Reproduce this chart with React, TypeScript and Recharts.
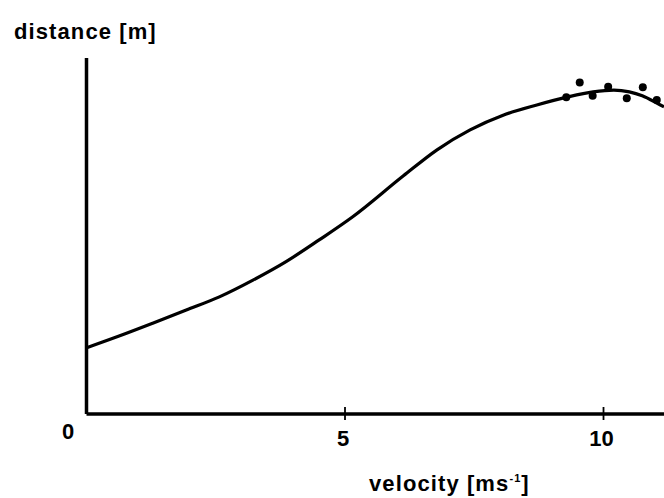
import React from 'react';
import { ComposedChart, Line, Scatter, XAxis, YAxis, Label } from 'recharts';

// smooth fitted curve
const curveVelocity = [0, 0.63, 1.28, 1.93, 2.57, 3.22, 3.86, 4.5, 5.15, 6.13, 6.78, 7.42, 8.07, 8.71, 9.29, 9.8, 10.2, 10.5, 10.75, 11.1, 11.17];
const curveDistance = [18.6, 21.9, 25.5, 29.2, 32.9, 37.6, 42.8, 48.9, 55.4, 66.9, 74.2, 79.8, 84.0, 86.8, 89.0, 90.5, 91.0, 90.5, 89.4, 86.8, 86.3];

// measured points
const pointVelocity = [9.28, 9.54, 9.79, 10.09, 10.45, 10.76, 11.03];
const pointDistance = [89.0, 93.1, 89.4, 91.9, 88.7, 91.8, 88.2];

const xTicks = [0, 5, 10];
const xMax = 11.17;

const curve = curveVelocity.map((v, i) => ({ v, d: curveDistance[i] }));
const points = pointVelocity.map((v, i) => ({ v, d: pointDistance[i] }));

const font = '"Liberation Sans", Arial, Helvetica, sans-serif';

const VelocityTick = (props: any) => {
  const { x, y, payload } = props;
  if (payload.value === 0) {
    return (
      <text x={x - 18.5} y={y + 24.5} textAnchor="middle" fontFamily={font} fontWeight="bold" fontSize={22} fill="#000">
        0
      </text>
    );
  }
  return (
    <g>
      <line x1={x} x2={x} y1={y - 7} y2={y + 6} stroke="#000" strokeWidth={1.8} />
      <text x={x - 2} y={y + 31.5} textAnchor="middle" fontFamily={font} fontWeight="bold" fontSize={22} fill="#000">
        {payload.value}
      </text>
    </g>
  );
};

const Dot = (props: any) => <circle cx={props.cx} cy={props.cy} r={4} fill="#000" />;

export default function App() {
  return (
    <div style={{ position: 'absolute', left: 0, top: 0, background: '#fff' }}>
      <ComposedChart width={664} height={498} margin={{ top: 58, right: 0, left: 84.5, bottom: 54 }}>
        <XAxis
          dataKey="v"
          type="number"
          domain={[0, xMax]}
          ticks={xTicks}
          allowDataOverflow
          height={30}
          tickSize={0}
          tickMargin={0}
          tickLine={false}
          axisLine={{ stroke: '#000', strokeWidth: 3.5 }}
          tick={<VelocityTick />}
        >
          <Label
            content={(p: any) => {
              const vb = p.viewBox;
              return (
                <text x={vb.x + 282.5} y={vb.y + 77} fontFamily={font} fontWeight="bold" fontSize={22} letterSpacing={1.1} fill="#000">
                  velocity [ms
                  <tspan fontSize={11} dy={-9}>-1</tspan>
                  <tspan dy={9}>]</tspan>
                </text>
              );
            }}
          />
        </XAxis>
        <YAxis
          dataKey="d"
          type="number"
          domain={[0, 100]}
          width={2}
          tick={false}
          tickLine={false}
          axisLine={{ stroke: '#000', strokeWidth: 3.5 }}
        >
          <Label
            content={(p: any) => {
              const vb = p.viewBox;
              return (
                <text x={14} y={vb.y - 19} fontFamily={font} fontWeight="bold" fontSize={22} letterSpacing={1.1} fill="#000">
                  distance [m]
                </text>
              );
            }}
          />
        </YAxis>
        <Line
          data={curve}
          dataKey="d"
          type="monotone"
          stroke="#000"
          strokeWidth={3.2}
          dot={false}
          activeDot={false}
          isAnimationActive={false}
        />
        <Scatter data={points} dataKey="d" shape={<Dot />} isAnimationActive={false} />
      </ComposedChart>
    </div>
  );
}
